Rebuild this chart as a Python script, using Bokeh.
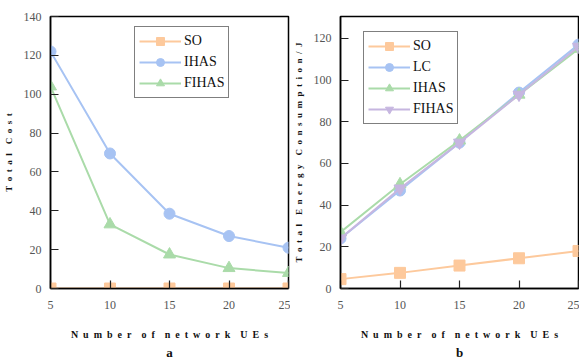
from bokeh.plotting import figure
from bokeh.layouts import row
from bokeh.models import Range1d, FixedTicker, Title
from bokeh.embed import file_html
from bokeh.resources import INLINE

ues = [5, 10, 15, 20, 25]

# panel a: Total Cost
a_so = [0, 0, 0, 0, 0]
a_ihas = [122, 69.5, 38.5, 27, 21]
a_fihas = [104, 33, 17.5, 10.5, 8]

# panel b: Total Energy Consumption/J
b_so = [4.5, 7.5, 11, 14.5, 18]
b_lc = [24, 47, 70, 94, 117]
b_ihas = [27, 50, 71, 93, 115]
b_fihas = [24, 48, 70, 93, 116]

C_SO = "#fdc99c"
C_BLUE = "#a7c3f3"
C_GREEN = "#aadba9"
C_PURPLE = "#c6b6e0"

SERIF = "Liberation Serif"


def spaced(s):
    words = s.split(" ")
    return "\u2002\u00a0\u00a0".join("\u2002".join(w) for w in words)


def make_fig(bl, br, ymax, yticks, ylabel, sub):
    p = figure(frame_width=238, frame_height=272, output_backend="svg", toolbar_location=None,
               x_range=Range1d(5, 25), y_range=Range1d(0, ymax),
               min_border_left=bl, min_border_right=br,
               min_border_top=16, min_border_bottom=68)
    p.xgrid.visible = False
    p.ygrid.visible = False
    p.outline_line_color = "black"
    p.outline_line_width = 1.5
    p.background_fill_color = "white"
    p.border_fill_color = "white"
    p.xaxis.ticker = FixedTicker(ticks=ues)
    p.yaxis.ticker = FixedTicker(ticks=yticks)
    for ax in (p.xaxis[0], p.yaxis[0]):
        ax.axis_line_color = "black"
        ax.axis_line_width = 1.5
        ax.major_tick_in = 8
        ax.major_tick_out = 0
        ax.minor_tick_in = 0
        ax.minor_tick_out = 0
        ax.major_tick_line_color = "#222222"
        ax.major_tick_line_width = 1.2
        ax.major_label_text_font = SERIF
        ax.major_label_text_font_size = "12px"
        ax.major_label_text_color = "#555555"
        ax.axis_label_text_font = SERIF
        ax.axis_label_text_font_style = "bold"
        ax.axis_label_text_color = "#111111"
    p.xaxis.axis_label_text_font_size = "10px"
    p.yaxis.axis_label_text_font_size = "9px"
    p.xaxis.major_label_standoff = 12
    p.yaxis.major_label_standoff = 9
    p.xaxis.axis_label = spaced("Number of network UEs")
    p.xaxis.axis_label_standoff = 17
    p.yaxis.axis_label = spaced(ylabel)
    p.yaxis.axis_label_standoff = 7
    t = Title(text=sub, align="center", text_font=SERIF, text_font_size="13px",
              text_font_style="bold", text_color="#111111", offset=0, standoff=0)
    p.add_layout(t, "below")
    return p


def add_series(p, y, color, marker, label, size):
    p.line(ues, y, line_color=color, line_width=2, legend_label=label)
    p.scatter(ues, y, marker=marker, size=size, fill_color=color, line_color=color,
              legend_label=label)


def style_legend(p, loc):
    lg = p.legend[0]
    lg.location = loc
    lg.border_line_color = "black"
    lg.border_line_width = 1
    lg.background_fill_alpha = 1
    lg.label_text_font = SERIF
    lg.label_text_font_size = "14px"
    lg.label_text_color = "#111111"
    lg.glyph_width = 42
    lg.glyph_height = 20
    lg.label_height = 20
    lg.label_standoff = 3
    lg.spacing = 1
    lg.padding = 4
    lg.margin = 0


pa = make_fig(44, 2, 140, [0, 20, 40, 60, 80, 100, 120, 140], "Total Cost", "a")
add_series(pa, a_so, C_SO, "square", "SO", 11)
add_series(pa, a_ihas, C_BLUE, "circle", "IHAS", 11)
add_series(pa, a_fihas, C_GREEN, "triangle", "FIHAS", 12)
style_legend(pa, (84, 190))

pb = make_fig(47, 1, 130.5, [0, 20, 40, 60, 80, 100, 120], "Total Energy Consumption/J", "b")
add_series(pb, b_so, C_SO, "square", "SO", 11)
add_series(pb, b_lc, C_BLUE, "circle", "LC", 11)
add_series(pb, b_ihas, C_GREEN, "triangle", "IHAS", 12)
add_series(pb, b_fihas, C_PURPLE, "inverted_triangle", "FIHAS", 12)
style_legend(pb, (23, 164))

layout = row(pa, pb, spacing=0)
open("out.html", "w").write(file_html(layout, INLINE))
